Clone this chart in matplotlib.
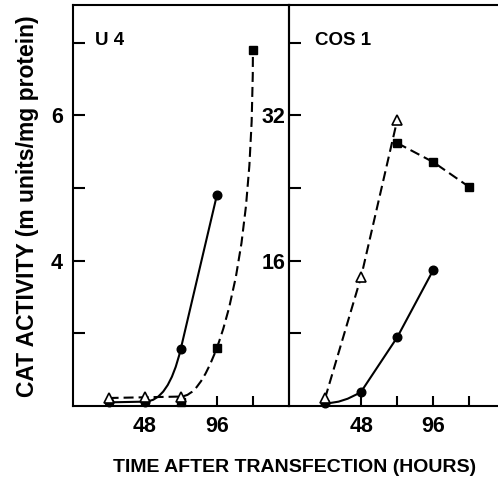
import matplotlib
matplotlib.use("Agg")
import matplotlib.pyplot as plt
from matplotlib.path import Path
from matplotlib.patches import PathPatch

# ---------------- data ----------------
# U 4 panel (m units/mg protein)
u4_circle_x = [24, 48, 72, 96]
u4_circle_y = [2.05, 2.06, 2.785, 4.90]
u4_tri_x = [24, 48, 72]
u4_tri_y = [2.11, 2.12, 2.13]
u4_sq_x = [72, 96, 120]
u4_sq_y = [2.06, 2.80, 6.90]

# COS 1 panel
cos_circle_x = [24, 48, 72, 96]
cos_circle_y = [0.3, 1.58, 7.57, 14.99]
cos_tri_x = [24, 48, 72]
cos_tri_y = [0.85, 14.25, 31.5]
cos_sq_x = [72, 96, 120]
cos_sq_y = [28.95, 26.85, 24.1]

xticks = [24, 48, 72, 96, 120]
xticklabels = ["", "48", "", "96", ""]
u4_yticks = [3, 4, 5, 6, 7]
u4_yticklabels = ["", "4", "", "6", ""]
cos_yticks = [8, 16, 24, 32, 40]
cos_yticklabels = ["", "16", "", "32", ""]

u4_title = "U 4"
cos_title = "COS 1"
xlabel = "TIME AFTER TRANSFECTION (HOURS)"
ylabel = "CAT ACTIVITY (m units/mg protein)"

# ---------------- style ----------------
W, H = 498, 478
DPI = 100
BOLD = ["Liberation Sans", "DejaVu Sans"]
LW = 1.5
DASH = (0, (4.8, 2.4))

fig = plt.figure(figsize=(W / DPI, H / DPI), dpi=DPI)


def fx(px):
    return px / W


def fy(py):
    return 1 - py / H


ax1 = fig.add_axes([fx(72.5), fy(406), fx(216.5), 401 / H])
ax2 = fig.add_axes([fx(289), fy(406), fx(216.5), 401 / H])


def draw_path(ax, segs, ls):
    """segs: list of ('M'|'L', x, y) or ('Q', cx, cy, x, y)."""
    verts, codes = [], []
    for s in segs:
        if s[0] == "M":
            verts.append((s[1], s[2])); codes.append(Path.MOVETO)
        elif s[0] == "L":
            verts.append((s[1], s[2])); codes.append(Path.LINETO)
        else:
            verts += [(s[1], s[2]), (s[3], s[4])]
            codes += [Path.CURVE3, Path.CURVE3]
    patch = PathPatch(Path(verts, codes), facecolor="none", edgecolor="black",
                      lw=LW, linestyle=ls, capstyle="butt", joinstyle="round")
    ax.add_patch(patch)


# ---- U 4 lines ----
# solid: flat, then eased curve into the straight 72->96 segment
x, y = u4_circle_x, u4_circle_y
m_out = (y[3] - y[2]) / (x[3] - x[2])
cx = x[2] - (y[2] - y[1]) / m_out
draw_path(ax1, [("M", x[0], y[0]), ("L", x[1], y[1]),
                ("Q", cx, y[1], x[2], y[2]), ("L", x[3], y[3])], "-")
# dashed: triangles flat, then rising curve through squares
tx, ty = u4_tri_x, u4_tri_y
sx, sy = u4_sq_x, u4_sq_y
m96 = 2 * (sy[1] - ty[2]) / (sx[1] - tx[2])
draw_path(ax1, [("M", tx[0], ty[0]), ("L", tx[1], ty[1]), ("L", tx[2], ty[2]),
                ("Q", (tx[2] + sx[1]) / 2, ty[2], sx[1], sy[1]),
                ("Q", sx[2], sy[1] + m96 * (sx[2] - sx[1]), sx[2], sy[2])], DASH)

# ---- COS 1 lines ----
x, y = cos_circle_x, cos_circle_y
draw_path(ax2, [("M", x[0], y[0]), ("Q", (x[0] + x[1]) / 2, y[0], x[1], y[1]),
                ("L", x[2], y[2]), ("L", x[3], y[3])], "-")
ax2.plot(cos_tri_x, cos_tri_y, color="black", lw=LW, linestyle=DASH,
         dash_capstyle="butt")
ax2.plot(cos_sq_x, cos_sq_y, color="black", lw=LW, linestyle=DASH,
         dash_capstyle="butt")

# ---- markers ----
for ax, (cxs, cys), (txs, tys), (sxs, sys_) in [
        (ax1, (u4_circle_x, u4_circle_y), (u4_tri_x, u4_tri_y), (u4_sq_x, u4_sq_y)),
        (ax2, (cos_circle_x, cos_circle_y), (cos_tri_x, cos_tri_y), (cos_sq_x, cos_sq_y))]:
    ax.plot(cxs, cys, "o", color="black", ms=6.2, clip_on=False, zorder=5)
    ax.plot(sxs, sys_, "s", color="black", ms=5.2, clip_on=False, zorder=5)
    ax.plot(txs, tys, "^", mfc="white", mec="black", mew=1.2, ms=6.5,
            clip_on=False, zorder=6)

# ---- axes ----
ax1.set_xlim(0, 144)
ax1.set_ylim(2, 7.52)
ax2.set_xlim(0, 144)
ax2.set_ylim(0, 44.15)

for ax, yt, ytl, ypad in [(ax1, u4_yticks, u4_yticklabels, 7),
                          (ax2, cos_yticks, cos_yticklabels, 2.5)]:
    ax.set_xticks(xticks)
    ax.set_xticklabels(xticklabels, family=BOLD, fontweight="bold", fontsize=15.5)
    ax.set_yticks(yt)
    ax.set_yticklabels(ytl, family=BOLD, fontweight="bold", fontsize=15.5)
    ax.tick_params(axis="x", direction="in", length=7, width=LW, pad=7)
    ax.tick_params(axis="y", direction="in", length=8.6, width=LW, pad=ypad)
    for sp in ax.spines.values():
        sp.set_linewidth(LW)
    ax.patch.set_alpha(0)

fig.text(fx(95), fy(45), u4_title, family=BOLD, fontweight="bold",
         fontsize=13.5, ha="left", va="baseline")
fig.text(fx(315), fy(45), cos_title, family=BOLD, fontweight="bold",
         fontsize=13.5, ha="left", va="baseline")
fig.text(fx(295), fy(471.7), xlabel, family=BOLD, fontweight="bold",
         fontsize=14, ha="center", va="baseline")
fig.text(fx(16), fy(206), ylabel, family=BOLD, fontweight="bold",
         fontsize=16.5, rotation=90, ha="left", va="center")

fig.savefig("out.png", dpi=DPI)
